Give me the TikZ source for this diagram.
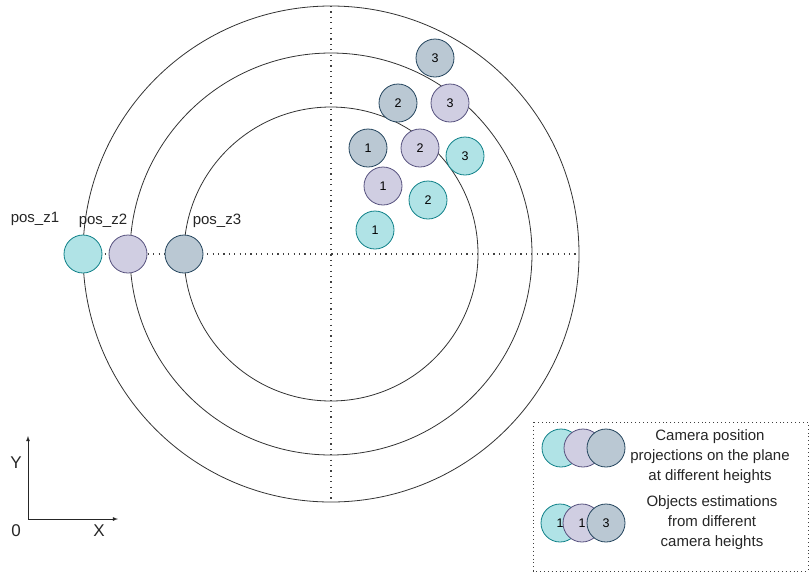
\documentclass[tikz,border=0pt]{standalone}
\usepackage{fontspec}
\setmainfont{Liberation Sans}
\begin{document}
\begin{tikzpicture}[x=1pt,y=-1pt,
  cy/.style={circle,minimum size=38pt,inner sep=0pt,draw=cyanborder,fill=cyanfill,line width=0.8pt,font=\fontsize{12.5}{14}\selectfont},
  pu/.style={circle,minimum size=38pt,inner sep=0pt,draw=purpleborder,fill=purplefill,line width=0.8pt,font=\fontsize{12.5}{14}\selectfont},
  gr/.style={circle,minimum size=38pt,inner sep=0pt,draw=greyborder,fill=greyfill,line width=0.8pt,font=\fontsize{12.5}{14}\selectfont},
  ring/.style={draw=black!80,line width=0.8pt},
  dots/.style={draw=black!75,line width=1.1pt,dash pattern=on 1.1pt off 4.3pt},
  lbl/.style={font=\fontsize{15}{17}\selectfont,text=black!85},
  axl/.style={font=\fontsize{17}{19}\selectfont,text=black!85},
  legtxt/.style={font=\fontsize{15}{20}\selectfont,align=center,text=black!85}]
\definecolor{cyanfill}{HTML}{B0E3E6}
\definecolor{cyanborder}{HTML}{0E8088}
\definecolor{purplefill}{HTML}{D0CEE2}
\definecolor{purpleborder}{HTML}{56517E}
\definecolor{greyfill}{HTML}{BAC8D3}
\definecolor{greyborder}{HTML}{23445D}
\useasboundingbox (0,0) rectangle (809,574);
\coordinate (c) at (331,254);
\coordinate (vt) at (331,6);
\coordinate (vb) at (331,502);
\coordinate (he) at (578,254);
% rings
\draw[ring] (c) circle[radius=248];
\draw[ring] (c) circle[radius=201];
\draw[ring] (c) circle[radius=147];
% camera positions
\coordinate (z1c) at (83,254);
\draw[dots] (vt) -- (vb);
\draw[dots] (z1c) -- (he);
\node[cy] (z1) at (z1c) {};
\node[pu] (z2) at (128,254) {};
\node[gr] (z3) at (184,254) {};
\node[lbl] (l1) at (35,219) {pos\_z1};
\node[lbl] (l2) at (103,221) {pos\_z2};
\node[lbl] (l3) at (217,221) {pos\_z3};
% objects
\node[gr] (g3) at (435,58) {3};
\node[pu] (p3) at (450,103) {3};
\node[gr] (g2) at (398,103) {2};
\node[gr] (g1) at (368,148) {1};
\node[pu] (p2) at (420,148) {2};
\node[cy] (c3) at (465,156) {3};
\node[pu] (p1) at (383,186) {1};
\node[cy] (c2) at (428,200) {2};
\node[cy] (c1) at (375,230) {1};
% axes
\coordinate (o) at (28,519);
\coordinate (ya) at (28,436);
\coordinate (xa) at (118,519);
\draw[black!85,line width=0.8pt,-latex] (o) -- (ya);
\draw[black!85,line width=0.8pt,-latex] (o) -- (xa);
\node[axl] (ylab) at (16,463) {Y};
\node[axl] (xlab) at (99,531) {X};
\node[axl] (zero) at (16,531) {0};
% legend
\draw[dots,line width=0.9pt,dash pattern=on 0.9pt off 3pt] (533,422) rectangle (808,571);
\node[cy] (lc1) at (561,448) {};
\node[pu] (lp1) at (583,448) {};
\node[gr] (lg1) at (606,448) {};
\node[cy] (lc2) at (560,523) {1};
\node[pu] (lp2) at (582,523) {1};
\node[gr] (lg2) at (606,523) {3};
\node[legtxt] (t1) at (710,457) {Camera position\\projections on the plane\\at different heights};
\node[legtxt] (t2) at (712,523) {Objects estimations\\from different\\camera heights};
\end{tikzpicture}
\end{document}
